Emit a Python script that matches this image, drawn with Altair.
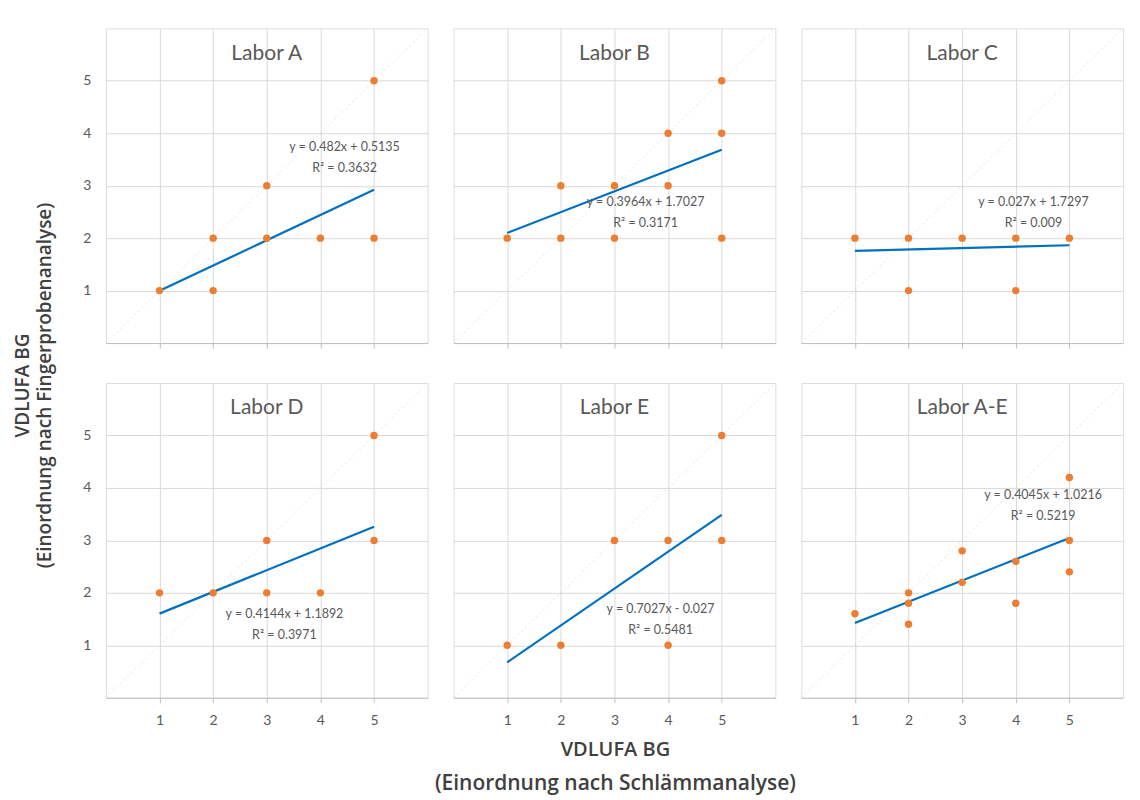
import altair as alt
import pandas as pd

# ---------------- data ----------------
labs = ["Labor A", "Labor B", "Labor C", "Labor D", "Labor E", "Labor A-E"]

x_A = [1, 2, 2, 3, 3, 4, 5, 5]
y_A = [1, 2, 1, 3, 2, 2, 5, 2]
x_B = [1, 2, 3, 5, 2, 3, 4, 4, 5, 5]
y_B = [2, 2, 2, 2, 3, 3, 3, 4, 4, 5]
x_C = [1, 2, 3, 4, 5, 2, 4]
y_C = [2, 2, 2, 2, 2, 1, 1]
x_D = [1, 2, 3, 4, 3, 5, 5]
y_D = [2, 2, 2, 2, 3, 3, 5]
x_E = [1, 2, 4, 3, 4, 5, 5]
y_E = [1, 1, 1, 3, 3, 3, 5]
x_AE = [1, 2, 2, 2, 3, 3, 4, 4, 5, 5, 5]
y_AE = [1.6, 2.0, 1.8, 1.4, 2.8, 2.2, 2.6, 1.8, 4.2, 3.0, 2.4]

xs_all = [x_A, x_B, x_C, x_D, x_E, x_AE]
ys_all = [y_A, y_B, y_C, y_D, y_E, y_AE]

slopes = [0.482, 0.3964, 0.027, 0.4144, 0.7027, 0.4045]
intercepts = [0.5135, 1.7027, 1.7297, 1.1892, -0.027, 1.0216]
eq_text = ["y = 0.482x + 0.5135", "y = 0.3964x + 1.7027", "y = 0.027x + 1.7297",
           "y = 0.4144x + 1.1892", "y = 0.7027x - 0.027", "y = 0.4045x + 1.0216"]
r2_text = ["R² = 0.3632", "R² = 0.3171", "R² = 0.009",
           "R² = 0.3971", "R² = 0.5481", "R² = 0.5219"]
# annotation anchor (data units) of the equation line
label_x = [4.45, 3.58, 4.33, 3.33, 3.86, 4.51]
label_y = [3.73, 2.69, 2.69, 1.60, 1.70, 3.87]

ticks = [1, 2, 3, 4, 5]
domain = [0, 6]

ORANGE = "#ED7D31"
BLUE = "#0070C0"
GRID = "#d9d9d9"
TXT = "#595959"
FONT = "Lato"
TFONT = "Open Sans"

W, H = 322, 315


def panel(i, show_x, show_y):
    pts = pd.DataFrame({"x": xs_all[i], "y": ys_all[i]})
    trend = pd.DataFrame({"x": [ticks[0], ticks[-1]]})
    trend["y"] = slopes[i] * trend["x"] + intercepts[i]
    diag = pd.DataFrame({"x": domain, "y": domain})
    ann = pd.DataFrame({"x": [label_x[i]], "y": [label_y[i]],
                        "eq": [eq_text[i]], "r2": [r2_text[i]]})
    ttl = pd.DataFrame({"x": [3], "y": [5.52], "t": [labs[i]]})

    xenc = alt.X("x:Q", scale=alt.Scale(domain=domain, nice=False),
                 axis=alt.Axis(values=ticks, grid=True, gridColor=GRID,
                               domainColor="#bfbfbf", tickColor="#bfbfbf",
                               tickSize=5, labels=show_x, labelFontSize=14,
                               labelColor=TXT, labelPadding=11, title=None))
    yenc = alt.Y("y:Q", scale=alt.Scale(domain=domain, nice=False),
                 axis=alt.Axis(values=ticks, grid=True, gridColor=GRID,
                               domain=False, ticks=False, labels=show_y,
                               labelFontSize=14, labelColor=TXT,
                               labelPadding=15, title=None))

    d = alt.Chart(diag).mark_line(color="#f4b183", opacity=0.22, strokeDash=[2, 3],
                                  strokeWidth=1.5).encode(x=xenc, y=yenc)
    p = alt.Chart(pts).mark_circle(size=55, color=ORANGE, opacity=1).encode(x=xenc, y=yenc)
    t = alt.Chart(trend).mark_line(color=BLUE, strokeWidth=2.2).encode(x=xenc, y=yenc)
    a1 = alt.Chart(ann).mark_text(fontSize=12.5, color=TXT, font=FONT).encode(
        x=xenc, y=yenc, text="eq:N")
    a2 = alt.Chart(ann).mark_text(fontSize=12.5, color=TXT, font=FONT, dy=21).encode(
        x=xenc, y=yenc, text="r2:N")
    ti = alt.Chart(ttl).mark_text(fontSize=21, color=TXT, font=FONT).encode(
        x=xenc, y=yenc, text="t:N")
    return alt.layer(d, t, p, a1, a2, ti).properties(width=W, height=H)


row1 = alt.hconcat(panel(0, False, True), panel(1, False, False),
                   panel(2, False, False), spacing=18)
row2 = alt.hconcat(panel(3, True, True), panel(4, True, False),
                   panel(5, True, False), spacing=18)

inner = alt.vconcat(row1, row2, spacing=30).properties(
    title=alt.TitleParams(text="VDLUFA BG", subtitle="(Einordnung nach Fingerprobenanalyse)",
                          orient="left", anchor="middle", fontSize=19, font=TFONT,
                          fontWeight=600, color="#404040",
                          subtitleFontSize=19, subtitleFont=TFONT,
                          subtitleFontWeight=600, subtitleColor="#404040",
                          subtitlePadding=3, offset=27, dx=-9)
)

chart = alt.vconcat(inner).properties(
    title=alt.TitleParams(text="VDLUFA BG", subtitle="(Einordnung nach Schlämmanalyse)",
                          orient="bottom", anchor="middle", fontSize=20, font=TFONT,
                          fontWeight=600, color="#404040",
                          subtitleFontSize=21, subtitleFont=TFONT,
                          subtitleFontWeight=600, subtitleColor="#404040",
                          subtitlePadding=13, offset=12, dx=45),
    padding={"left": 6, "top": 16, "right": 5, "bottom": 5},
).configure_view(stroke=GRID).configure(font=FONT)

chart.save("out.html", embed_options={"renderer": "svg", "actions": False})
